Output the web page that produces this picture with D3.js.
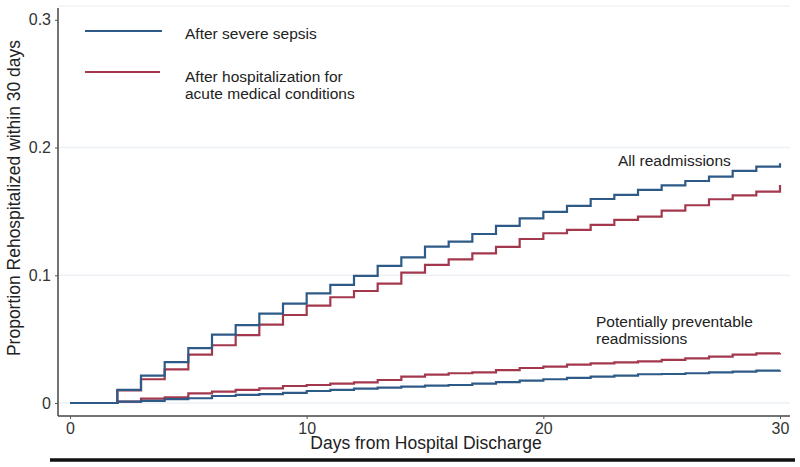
<!DOCTYPE html>
<html><head><meta charset="utf-8">
<script src="https://cdn.jsdelivr.net/npm/d3@7"></script>
<style>body{margin:0;background:#fff;}svg{display:block;font-family:"Liberation Sans",Arial,Helvetica,sans-serif;}</style>
</head><body>
<div id="chart"></div>
<script>
const days = d3.range(0, 31);
// values for interval [day, day+1), index 0..29
const sepsisAll = [0,0,0.0102,0.0214,0.032,0.043,0.0535,0.061,0.070,0.0778,0.0859,0.0924,0.0995,0.1073,0.114,0.1224,0.1263,0.1323,0.1386,0.1446,0.1496,0.1543,0.1597,0.1629,0.1668,0.1704,0.1738,0.1772,0.1817,0.185];
const acuteAll = [0,0,0.0098,0.0186,0.0264,0.0378,0.0452,0.0532,0.0613,0.0689,0.0762,0.0828,0.0877,0.0934,0.102,0.1081,0.1125,0.1172,0.1222,0.1284,0.1329,0.1355,0.1394,0.1433,0.1459,0.1506,0.1548,0.1595,0.1626,0.1655];
const sepsisPrev = [0,0,0.001,0.0016,0.003,0.0037,0.0055,0.0063,0.007,0.008,0.0094,0.0102,0.0112,0.012,0.0128,0.0136,0.0141,0.0151,0.0164,0.0175,0.0186,0.0196,0.0206,0.0214,0.0225,0.0227,0.0233,0.024,0.0245,0.0253];
const acutePrev = [0,0,0.001,0.0034,0.0045,0.0076,0.0089,0.0102,0.0115,0.0133,0.0141,0.0151,0.0162,0.018,0.0206,0.0222,0.0233,0.024,0.0258,0.0274,0.0284,0.03,0.031,0.0318,0.0326,0.0337,0.035,0.0363,0.0378,0.0389];
// final value at day 30
const sepsisAllEnd = 0.1877, acuteAllEnd = 0.1707, sepsisPrevEnd = 0.0256, acutePrevEnd = 0.0392;
const xTicks = [0,10,20,30];
const yTicks = [0,0.1,0.2,0.3];
const yTickLabels = ["0","0.1","0.2","0.3"];
const blue = "#2e5a87", red = "#a3384d";

const W = 800, H = 467;
const svg = d3.select("#chart").append("svg").attr("width", W).attr("height", H);
const x = d3.scaleLinear().domain([0,30]).range([70,780]);
const y = d3.scaleLinear().domain([0,0.3]).range([403,19.8]);

// gridlines
svg.append("g").selectAll("line").data(yTicks.slice(0,3)).join("line")
  .attr("x1",58).attr("x2",790).attr("y1",d=>y(d)).attr("y2",d=>y(d))
  .attr("stroke","#edf1f5").attr("stroke-width",1.5);
svg.append("line").attr("x1",58).attr("x2",790).attr("y1",6).attr("y2",6).attr("stroke","#f1f3f5").attr("stroke-width",1.5);

// axes
const yAxis = d3.axisLeft(y).tickValues(yTicks).tickFormat((d,i)=>yTickLabels[i]).tickSize(3).tickPadding(4);
const gy = svg.append("g").attr("transform","translate(58,0)").call(yAxis);
gy.select(".domain").attr("d","M0,8V416").attr("stroke","#444").attr("stroke-width",1.5);
gy.selectAll(".tick line").attr("stroke","#555");
gy.selectAll("text").attr("font-size",16).attr("fill","#333").attr("font-family","Liberation Sans, Arial, sans-serif");

const xAxis = d3.axisBottom(x).tickValues(xTicks).tickFormat(d3.format("d")).tickSize(3).tickPadding(4);
const gx = svg.append("g").attr("transform","translate(0,416)").call(xAxis);
gx.select(".domain").attr("d","M58,0H790").attr("stroke","#444").attr("stroke-width",1.5);
gx.selectAll(".tick line").attr("stroke","#555");
gx.selectAll("text").attr("font-size",16).attr("fill","#333").attr("font-family","Liberation Sans, Arial, sans-serif");

// axis titles
svg.append("text").attr("x",426).attr("y",449).attr("text-anchor","middle").attr("font-size",17.5).attr("fill","#222").text("Days from Hospital Discharge");
svg.append("text").attr("transform","translate(20,198) rotate(-90)").attr("text-anchor","middle").attr("font-size",17.5).attr("fill","#222").text("Proportion Rehospitalized within 30 days");

// bottom thick rule
svg.append("line").attr("x1",50).attr("x2",795).attr("y1",460).attr("y2",460).attr("stroke","#111").attr("stroke-width",3.5);

// step lines
const lines = [
  {v:acutePrev,e:acutePrevEnd,c:red},
  {v:sepsisPrev,e:sepsisPrevEnd,c:blue},
  {v:acuteAll,e:acuteAllEnd,c:red},
  {v:sepsisAll,e:sepsisAllEnd,c:blue}
];
const stepLine = d3.line().x(p=>x(p[0])).y(p=>y(p[1])).curve(d3.curveStepAfter);
svg.append("g").selectAll("path").data(lines).join("path")
  .attr("d",d=>{
    const pts = d.v.map((v,i)=>[days[i],v]);
    pts.push([30,d.e]);
    return stepLine(pts);
  })
  .attr("fill","none").attr("stroke",d=>d.c).attr("stroke-width",2.2);

// legend
const leg = svg.append("g");
leg.append("line").attr("x1",85).attr("x2",162).attr("y1",31).attr("y2",31).attr("stroke",blue).attr("stroke-width",2);
leg.append("line").attr("x1",85).attr("x2",160).attr("y1",72).attr("y2",72).attr("stroke",red).attr("stroke-width",2);
leg.append("text").attr("x",185).attr("y",38.5).attr("font-size",15.5).attr("fill","#222").text("After severe sepsis");
leg.append("text").attr("x",185).attr("y",81.5).attr("font-size",15.5).attr("fill","#222").text("After hospitalization for");
leg.append("text").attr("x",185).attr("y",98.5).attr("font-size",15.5).attr("fill","#222").text("acute medical conditions");

// annotations
svg.append("text").attr("x",618).attr("y",166).attr("font-size",15.5).attr("fill","#222").text("All readmissions");
svg.append("text").attr("x",596).attr("y",327).attr("font-size",15.5).attr("fill","#222").text("Potentially preventable");
svg.append("text").attr("x",596).attr("y",344).attr("font-size",15.5).attr("fill","#222").text("readmissions");
</script>
</body></html>
